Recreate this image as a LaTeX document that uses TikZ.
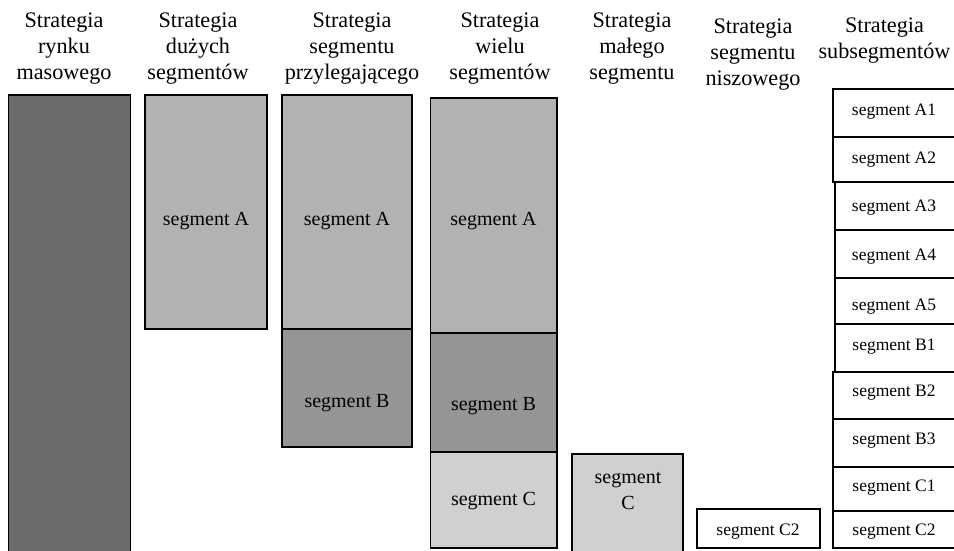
\documentclass[tikz,border=0pt]{standalone}
\usepackage{fontspec}
\setmainfont{Liberation Serif}
\definecolor{massfill}{HTML}{6B6B6B}
\definecolor{segAfill}{HTML}{B2B2B2}
\definecolor{segBfill}{HTML}{959595}
\definecolor{segCfill}{HTML}{D0D0D0}
\begin{document}
\begin{tikzpicture}[x=1pt,y=-1pt,
  box/.style={draw=black, line width=1.7pt},
  head/.style={align=center, font=\fontsize{22.2}{26}\selectfont, anchor=base, inner sep=0pt},
  lab/.style={align=center, font=\fontsize{20}{26}\selectfont, anchor=base, inner sep=0pt},
  small/.style={font=\fontsize{17.5}{21}\selectfont, anchor=base, inner sep=0pt}]
\useasboundingbox (0,0) rectangle (954,551);
\clip (0,0) rectangle (954,551);

% column headings (anchored at the baseline of their last line)
\node[head] (h1) at (64,80)    {Strategia\\rynku\\masowego};
\node[head] (h2) at (198,80)   {Strategia\\dużych\\segmentów};
\node[head] (h3) at (352,80)   {Strategia\\segmentu\\przylegającego};
\node[head] (h4) at (500,80)   {Strategia\\wielu\\segmentów};
\node[head] (h5) at (632,80)   {Strategia\\małego\\segmentu};
\node[head] (h6) at (753,85)   {Strategia\\segmentu\\niszowego};
\node[head] (h7) at (884.5,59) {Strategia\\subsegmentów};

% mass market
\draw[box, fill=massfill] (8.5,95) rectangle (130.5,570);

% large segments
\draw[box, fill=segAfill] (145,95) rectangle (267,329);
\node[lab] (l2a) at (206,225) {segment A};

% adjacent segment
\draw[box, fill=segAfill] (282,95) rectangle (412,329);
\draw[box, fill=segBfill] (282,329) rectangle (412,447);
\node[lab] (l3a) at (347,225) {segment A};
\node[lab] (l3b) at (347,407) {segment B};

% multiple segments
\draw[box, fill=segAfill] (430.5,98) rectangle (557,333);
\draw[box, fill=segBfill] (430.5,333) rectangle (557,452);
\draw[box, fill=segCfill] (430.5,452) rectangle (557,548);
\node[lab] (l4a) at (493.5,225) {segment A};
\node[lab] (l4b) at (493.5,410) {segment B};
\node[lab] (l4c) at (493.5,505) {segment C};

% small segment
\draw[box, fill=segCfill] (572,454) rectangle (683,570);
\node[lab] (l5c) at (628,509) {segment\\C};

% niche segment
\draw[box, fill=white] (697,509) rectangle (820,548);
\node[small] (l6c) at (758,535) {segment C2};

% subsegments
\draw[box, fill=white] (832.7,89)  rectangle (970,137);
\draw[box, fill=white] (832.7,137) rectangle (970,182);
\draw[box, fill=white] (835,182)   rectangle (970,230);
\draw[box, fill=white] (835,230)   rectangle (970,278);
\draw[box, fill=white] (835,278)   rectangle (970,324);
\draw[box, fill=white] (835,324)   rectangle (970,372);
\draw[box, fill=white] (832.7,372) rectangle (970,419);
\draw[box, fill=white] (832.7,419) rectangle (970,467);
\draw[box, fill=white] (832.7,467) rectangle (970,511);
\draw[box, fill=white] (832.7,511) rectangle (970,548);
\node[small] (sA1) at (894,115)   {segment A1};
\node[small] (sA2) at (894,163.3) {segment A2};
\node[small] (sA3) at (894,211.7) {segment A3};
\node[small] (sA4) at (894,260)   {segment A4};
\node[small] (sA5) at (894,310)   {segment A5};
\node[small] (sB1) at (894,350)   {segment B1};
\node[small] (sB2) at (894,396.7) {segment B2};
\node[small] (sB3) at (894,444)   {segment B3};
\node[small] (sC1) at (894,491.7) {segment C1};
\node[small] (sC2) at (894,535)   {segment C2};
\end{tikzpicture}
\end{document}
